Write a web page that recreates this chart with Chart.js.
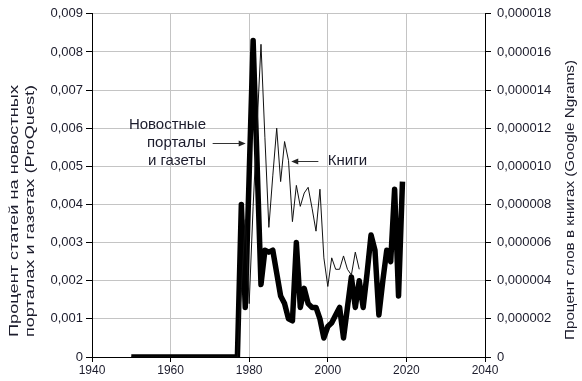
<!DOCTYPE html>
<html>
<head>
<meta charset="utf-8">
<script src="https://cdn.jsdelivr.net/npm/chart.js@4"></script>
<style>
  body { margin: 0; background: #fff; }
  canvas { display: block; }
</style>
</head>
<body>
<canvas id="chart" width="582" height="381"></canvas>
<script>
// Years (annual data)
const newsYears = [
  1950, 1951, 1952, 1953, 1954, 1955, 1956, 1957, 1958, 1959,
  1960, 1961, 1962, 1963, 1964, 1965, 1966, 1967, 1968, 1969,
  1970, 1971, 1972, 1973, 1974, 1975, 1976, 1977, 1978, 1979,
  1980, 1981, 1982, 1983, 1984, 1985, 1986, 1987, 1988, 1989,
  1990, 1991, 1992, 1993, 1994, 1995, 1996, 1997, 1998, 1999,
  2000, 2001, 2002, 2003, 2004, 2005, 2006, 2007, 2008, 2009,
  2010, 2011, 2012, 2013, 2014, 2015, 2016, 2017, 2018, 2019
];

// Percent of news articles (ProQuest), left axis
const newsValues = [
  0, 0, 0, 0, 0, 0, 0, 0, 0, 0,
  0, 0, 0, 0, 0, 0, 0, 0, 0, 0,
  0, 0, 0, 0, 0, 0, 0, 0, 0.0040, 0.0013,
  0.0048, 0.0083, 0.0051, 0.0019, 0.0028, 0.00275, 0.0028, 0.0022, 0.0016, 0.0014,
  0.0010, 0.00095, 0.0030, 0.0013, 0.0018, 0.0014, 0.0013, 0.0013, 0.0010, 0.0005,
  0.0008, 0.0009, 0.0011, 0.0013, 0.0005, 0.0013, 0.0021, 0.0013, 0.0020, 0.0013,
  0.0022, 0.0032, 0.0028, 0.0011, 0.0020, 0.0028, 0.0025, 0.0044, 0.0016, 0.0046
];

// Google Ngrams ends in 2008
const bookYears = [
  1950, 1951, 1952, 1953, 1954, 1955, 1956, 1957, 1958, 1959,
  1960, 1961, 1962, 1963, 1964, 1965, 1966, 1967, 1968, 1969,
  1970, 1971, 1972, 1973, 1974, 1975, 1976, 1977, 1978, 1979,
  1980, 1981, 1982, 1983, 1984, 1985, 1986, 1987, 1988, 1989,
  1990, 1991, 1992, 1993, 1994, 1995, 1996, 1997, 1998, 1999,
  2000, 2001, 2002, 2003, 2004, 2005, 2006, 2007, 2008
];

// Percent of words in books (Google Ngrams), right axis
const bookValues = [
  0, 0, 0, 0, 0, 0, 0, 0, 0, 0,
  0, 0, 0, 0, 0, 0, 0, 0, 0, 0,
  0, 0, 0, 0, 0, 0, 0, 0, 0.0000036, 0.0000072,
  0.0000028, 0.0000079, 0.0000121, 0.0000164, 0.0000115, 0.0000068, 0.0000095, 0.0000120, 0.0000092, 0.0000113,
  0.0000103, 0.0000071, 0.0000090, 0.0000079, 0.0000086, 0.0000089, 0.0000078, 0.0000066, 0.0000088, 0.0000052,
  0.0000037, 0.0000052, 0.0000046, 0.0000046, 0.0000053, 0.0000046, 0.0000043, 0.0000055, 0.0000046
];

const xTicks = [1940, 1960, 1980, 2000, 2020, 2040];

const leftTitle = ["Процент статей на новостных", "порталах и газетах (ProQuest)"];
const rightTitle = "Процент слов в книгах (Google Ngrams)";
const newsLabel = ["Новостные", "порталы", "и газеты"];
const booksLabel = "Книги";

const textColor = "#1c1c2c";
const gridColor = "#c4c4c4";
const FONT = '"Liberation Sans", Arial, sans-serif';

// Rotated axis titles + arrow annotations
const extras = {
  id: "extras",
  afterDraw(chart) {
    const ctx = chart.ctx;
    const xs = chart.scales.x;
    const y = chart.scales.y;
    const y2 = chart.scales.y2;

    function vText(text, cx, cy, length) {
      ctx.save();
      ctx.font = "12px " + FONT;
      const w = ctx.measureText(text).width;
      ctx.translate(cx, cy);
      ctx.rotate(-Math.PI / 2);
      ctx.scale(length / w, 1);
      ctx.textAlign = "center";
      ctx.textBaseline = "middle";
      ctx.fillStyle = textColor;
      ctx.fillText(text, 0, 0);
      ctx.restore();
    }

    vText(leftTitle[0], 15, 211, 252);
    vText(leftTitle[1], 31, 211, 252);
    vText(rightTitle, 571, 200, 280);

    function arrow(x1, x2, yy) {
      // head at x2
      const dir = x2 > x1 ? 1 : -1;
      ctx.save();
      ctx.strokeStyle = "#333";
      ctx.fillStyle = "#222";
      ctx.lineWidth = 1;
      ctx.beginPath();
      ctx.moveTo(x1, yy + 0.5);
      ctx.lineTo(x2 - dir * 5, yy + 0.5);
      ctx.stroke();
      ctx.beginPath();
      ctx.moveTo(x2, yy + 0.5);
      ctx.lineTo(x2 - dir * 7, yy - 2.5);
      ctx.lineTo(x2 - dir * 7, yy + 3.5);
      ctx.closePath();
      ctx.fill();
      ctx.restore();
    }

    // news annotation
    const ny = Math.round(y.getPixelForValue(0.0056));
    ctx.save();
    ctx.font = "15px " + FONT;
    ctx.fillStyle = textColor;
    ctx.textAlign = "right";
    ctx.textBaseline = "middle";
    const nx = xs.getPixelForValue(1969);
    ctx.fillText(newsLabel[0], nx, ny - 18);
    ctx.fillText(newsLabel[1], nx, ny);
    ctx.fillText(newsLabel[2], nx, ny + 18);
    ctx.restore();
    arrow(xs.getPixelForValue(1970.7), xs.getPixelForValue(1979.1), ny);

    // books annotation
    const by = Math.round(y2.getPixelForValue(0.0000103));
    arrow(xs.getPixelForValue(1997.6), xs.getPixelForValue(1990.7), by);
    ctx.save();
    ctx.font = "15px " + FONT;
    ctx.fillStyle = textColor;
    ctx.textAlign = "left";
    ctx.textBaseline = "middle";
    ctx.fillText(booksLabel, xs.getPixelForValue(2000), by);
    ctx.restore();
  }
};

new Chart(document.getElementById("chart"), {
  type: "line",
  data: {
    datasets: [
      {
        label: "Книги",
        data: bookYears.map((yr, i) => ({ x: yr, y: bookValues[i] })),
        yAxisID: "y2",
        borderColor: "#111",
        borderWidth: 1,
        pointRadius: 0,
        tension: 0
      },
      {
        label: "Новостные порталы и газеты",
        data: newsYears.map((yr, i) => ({ x: yr, y: newsValues[i] })),
        yAxisID: "y",
        borderColor: "#000",
        borderWidth: 5.5,
        borderJoinStyle: "round",
        pointRadius: 0,
        tension: 0
      }
    ]
  },
  options: {
    responsive: false,
    animation: false,
    devicePixelRatio: 1,
    layout: { padding: { top: 7, left: 0, right: 0, bottom: 0 } },
    plugins: {
      legend: { display: false },
      tooltip: { enabled: false }
    },
    scales: {
      x: {
        type: "linear",
        min: 1940,
        max: 2040,
        afterBuildTicks: (s) => { s.ticks = xTicks.map(v => ({ value: v })); },
        afterFit: (s) => { s.height = 24; },
        grid: { color: gridColor, tickColor: "#000", tickLength: 5 },
        border: { color: "#000" },
        ticks: {
          color: textColor,
          padding: 1,
          font: { family: FONT, size: 12 },
          callback: (v) => String(v)
        }
      },
      y: {
        position: "left",
        min: 0,
        max: 0.009,
        afterFit: (s) => { s.width = 92; },
        grid: { color: gridColor, tickColor: "#000", tickLength: 6 },
        border: { color: "#000" },
        ticks: {
          stepSize: 0.001,
          color: textColor,
          padding: 3,
          font: { family: FONT, size: 13 },
          callback: (v) => v === 0 ? "0" : v.toFixed(3).replace(".", ",")
        }
      },
      y2: {
        position: "right",
        min: 0,
        max: 0.000018,
        afterFit: (s) => { s.width = 97; },
        grid: { drawOnChartArea: false, tickColor: "#000", tickLength: 6 },
        border: { color: "#000" },
        ticks: {
          stepSize: 0.000002,
          color: textColor,
          padding: 6,
          font: { family: FONT, size: 13 },
          callback: (v) => Math.abs(v) < 1e-12 ? "0" : v.toFixed(6).replace(".", ",")
        }
      }
    }
  },
  plugins: [extras]
});
</script>
</body>
</html>
